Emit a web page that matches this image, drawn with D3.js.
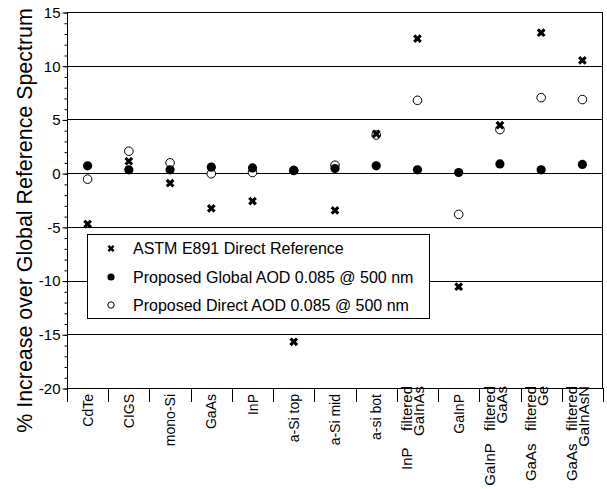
<!DOCTYPE html>
<html>
<head>
<meta charset="utf-8">
<script src="https://cdn.jsdelivr.net/npm/d3@7"></script>
<style>
  html, body { margin: 0; padding: 0; background: #fff; }
  svg { display: block; font-family: "Liberation Sans", Arial, sans-serif; }
</style>
</head>
<body>
<svg id="chart" width="607" height="489"></svg>
<script>
// ---- data ----
const categories = ["CdTe","CIGS","mono-Si","GaAs","InP","a-Si top","a-Si mid","a-si bot",
  "InP filtered GaInAs","GaInP","GaInP filtered GaAs","GaAs filtered Ge","GaAs filtered GaInAsN"];
const categoryLines = [["CdTe"],["CIGS"],["mono-Si"],["GaAs"],["InP"],["a-Si top"],["a-Si mid"],["a-si bot"],
  ["InP    filtered","GaInAs"],["GaInP"],["GaInP   filtered","GaAs"],["GaAs   filtered","Ge"],["GaAs   filtered","GaInAsN"]];
const astmDirect     = [-4.74, 1.11, -0.93, -3.28, -2.60, -15.70, -3.47, 3.65, 12.52, -10.57, 4.46, 13.07, 10.50];
const proposedGlobal = [ 0.68, 0.31,  0.31,  0.56,  0.49,   0.25,  0.43, 0.68,  0.31,   0.06, 0.86,  0.31,  0.81];
const proposedDirect = [-0.56, 2.04,  0.96, -0.06,  0.06,   0.25,  0.74, 3.55,  6.78,  -3.84, 4.06,  7.03,  6.85];
const yMajorTicks = [-20,-15,-10,-5,0,5,10,15];
const yMinorTicks = d3.range(-20, 16, 1);
const seriesNames = ["ASTM E891 Direct Reference","Proposed Global AOD 0.085 @ 500 nm","Proposed Direct AOD 0.085 @ 500 nm"];
const yTitle = "% Increase over Global Reference Spectrum";

// ---- layout ----
const svg = d3.select("#chart");
const L = 67, R = 603, T = 12, B = 388;
const x = d3.scaleBand().domain(categories).range([L, R]).padding(0);
const y = d3.scaleLinear().domain([-20, 15]).range([B, T]);

// gridlines
svg.append("g").selectAll("line").data(yMajorTicks.filter(v => v > -20 && v < 15)).join("line")
  .attr("x1", L).attr("x2", R)
  .attr("y1", d => Math.round(y(d)) + 0.5).attr("y2", d => Math.round(y(d)) + 0.5)
  .attr("stroke", "#000").attr("stroke-width", 1);

// frame
svg.append("rect").attr("x", L + 0.5).attr("y", Math.round(T) + 0.5)
  .attr("width", R - L - 1).attr("height", Math.round(B) - Math.round(T))
  .attr("fill", "none").attr("stroke", "#000").attr("stroke-width", 1);

// y axis: minor ticks
const yMinor = svg.append("g").attr("transform", `translate(${L + 0.5},0.5)`)
  .call(d3.axisLeft(y).tickValues(yMinorTicks).tickSize(3).tickFormat(""));
yMinor.select(".domain").remove();
yMinor.selectAll("line").attr("stroke", "#000");
// y axis: major ticks + labels
const yMajor = svg.append("g").attr("transform", `translate(${L + 0.5},0.5)`)
  .call(d3.axisLeft(y).tickValues(yMajorTicks).tickSize(5).tickPadding(2).tickFormat(d3.format("d")));
yMajor.select(".domain").remove();
yMajor.selectAll("line").attr("stroke", "#000");
yMajor.selectAll("text").attr("font-size", 15).attr("fill", "#000")
  .attr("font-family", "'Liberation Sans', Arial, sans-serif").text(d => d < 0 ? "-" + Math.abs(d) : d);

// x axis separators
const bounds = categories.map(c => x(c)).concat([x(categories[categories.length - 1]) + x.bandwidth()]);
svg.append("g").selectAll("line").data(bounds).join("line")
  .attr("x1", d => Math.round(d) + 0.5).attr("x2", d => Math.round(d) + 0.5)
  .attr("y1", Math.round(B)).attr("y2", Math.round(B) + 14)
  .attr("stroke", "#000");

// x labels (rotated)
const xl = svg.append("g");
categories.forEach((c, i) => {
  const lines = categoryLines[i];
  const cx = x(c) + x.bandwidth() / 2;
  const multi = lines.length > 1;
  lines.forEach((t, j) => {
    const off = multi ? (j === 0 ? -5 : 7) : 5;
    const bx = cx + off;
    xl.append("text")
      .attr("transform", `translate(${bx},${Math.round(B) + (multi ? -2 : 6)}) rotate(-90)`)
      .attr("text-anchor", "end")
      .attr("font-size", multi ? 15 : 14)
      .attr("fill", "#000")
      .attr("xml:space", "preserve")
      .style("white-space", "pre")
      .text(t);
  });
});

// y title
svg.append("text")
  .attr("transform", `translate(32,220.5) rotate(-90)`)
  .attr("text-anchor", "middle").attr("font-size", 21.4).attr("fill", "#000")
  .text(yTitle);

// markers
const crossPath = d3.symbol().type(d3.symbolCross).size(48)();
const marks = svg.append("g");
marks.selectAll("circle.direct").data(proposedDirect).join("circle").attr("class", "direct")
  .attr("cx", (d, i) => x(categories[i]) + x.bandwidth() / 2).attr("cy", d => y(d))
  .attr("r", 4.3).attr("fill", "#fff").attr("stroke", "#000").attr("stroke-width", 1);
marks.selectAll("circle.global").data(proposedGlobal).join("circle").attr("class", "global")
  .attr("cx", (d, i) => x(categories[i]) + x.bandwidth() / 2).attr("cy", d => y(d))
  .attr("r", 4.6).attr("fill", "#000");
marks.selectAll("path.astm").data(astmDirect).join("path").attr("class", "astm")
  .attr("d", crossPath)
  .attr("transform", (d, i) => `translate(${x(categories[i]) + x.bandwidth() / 2},${y(d)}) rotate(45)`)
  .attr("fill", "#000");

// legend
const lg = svg.append("g");
lg.append("rect").attr("x", 87.5).attr("y", 234.5).attr("width", 342).attr("height", 84)
  .attr("fill", "#fff").attr("stroke", "#000");
const rowsY = [248.5, 277, 305];
lg.append("path").attr("d", d3.symbol().type(d3.symbolCross).size(30)())
  .attr("transform", `translate(111,${rowsY[0]}) rotate(45)`).attr("fill", "#000");
lg.append("circle").attr("cx", 111).attr("cy", rowsY[1]).attr("r", 3.6).attr("fill", "#000");
lg.append("circle").attr("cx", 111).attr("cy", rowsY[2]).attr("r", 3.2).attr("fill", "#fff").attr("stroke", "#000");
seriesNames.forEach((n, i) => {
  lg.append("text").attr("x", 133).attr("y", rowsY[i]).attr("dy", "0.36em")
    .attr("font-size", 16).attr("fill", "#000").text(n);
});
</script>
</body>
</html>
